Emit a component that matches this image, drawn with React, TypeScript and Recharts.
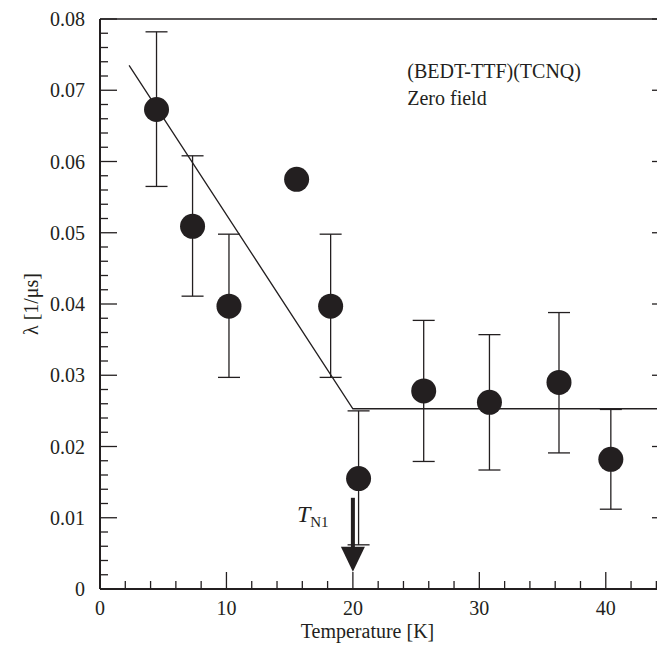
import React from 'react';
import { ComposedChart, Scatter, ErrorBar, XAxis, YAxis, ReferenceDot } from 'recharts';

// measured points: temperature [K], relaxation rate λ [1/μs]
const temps = [4.47, 7.32, 10.2, 15.55, 18.24, 20.45, 25.6, 30.8, 36.3, 40.4];
const lambdas = [0.0673, 0.0509, 0.0397, 0.0575, 0.0397, 0.0155, 0.0278, 0.0262, 0.029, 0.0182];
const errHigh = [0.0782, 0.0608, 0.0498, 0.0575, 0.0498, 0.025, 0.0377, 0.0357, 0.0388, 0.0252];
const errLow = [0.0565, 0.0411, 0.0297, 0.0575, 0.0297, 0.0062, 0.0179, 0.0167, 0.0191, 0.0112];

// guide line drawn through the data
const fitX = [2.3, 20, 45];
const fitY = [0.0735, 0.0253, 0.0253];

// ticks every 2 K / 0.002, the labelled ones are the majors
const xTicks = Array.from({ length: 23 }, (_, i) => i * 2);
const yTicks = Array.from({ length: 41 }, (_, i) => i * 0.002);
const isMajorX = (v: number) => Math.round(v) % 10 === 0;
const isMajorY = (v: number) => Math.round(v * 1000) % 10 === 0;

const TN1 = 20;
const TN1_ARROW_TOP = 0.0128;

const INK = '#231f20';
const SERIF = 'Liberation Serif, Times New Roman, Times, serif';

const points = temps.map((t, i) => ({
  x: t,
  y: lambdas[i],
  err: [lambdas[i] - errLow[i], errHigh[i] - lambdas[i]],
}));
const fit = fitX.map((x, i) => ({ x, y: fitY[i] }));

const fmtY = (v: number) => (v === 0 ? '0' : v.toFixed(2));

// axis ticks point into the plot, like the original figure
function makeTick(side: 'bottom' | 'top' | 'left' | 'right') {
  return (props: any) => {
    const { x, y, payload } = props;
    const v = payload.value;
    const horiz = side === 'bottom' || side === 'top';
    const major = horiz ? isMajorX(v) : isMajorY(v);
    const len = major ? 17 : 8;
    let x2 = x;
    let y2 = y;
    if (side === 'bottom') y2 = y - len;
    if (side === 'top') y2 = y + len;
    if (side === 'left') x2 = x + len;
    if (side === 'right') x2 = x - len;
    return (
      <g>
        <line x1={x} y1={y} x2={x2} y2={y2} stroke={INK} strokeWidth={1.3} />
        {major && side === 'bottom' && (
          <text x={x} y={y + 26} textAnchor="middle" fill={INK} fontFamily={SERIF} fontSize={20}>
            {String(v)}
          </text>
        )}
        {major && side === 'left' && (
          <text x={x - 15} y={y + 7} textAnchor="end" fill={INK} fontFamily={SERIF} fontSize={20}>
            {fmtY(v)}
          </text>
        )}
      </g>
    );
  };
}

function Dot(props: any) {
  return <circle cx={props.cx} cy={props.cy} r={12.5} fill={INK} />;
}

function Arrow(props: any) {
  const { cx, cy } = props;
  return (
    <g>
      <rect x={cx - 2} y={cy} width={4} height={50} fill={INK} />
      <polygon points={`${cx - 12},${cy + 49} ${cx + 12},${cy + 49} ${cx},${cy + 74}`} fill={INK} />
      <text x={cx - 56} y={cy + 24} fill={INK} fontFamily={SERIF} fontSize={24} fontStyle="italic">
        T
        <tspan fontStyle="normal" fontSize={15} dy={5}>
          N1
        </tspan>
      </text>
    </g>
  );
}

function Title(props: any) {
  const { cx, cy } = props;
  return (
    <text x={cx} y={cy} fill={INK} fontFamily={SERIF} fontSize={20}>
      <tspan x={cx}>(BEDT-TTF)(TCNQ)</tspan>
      <tspan x={cx} dy={27}>
        Zero field
      </tspan>
    </text>
  );
}

export default function App() {
  return (
    <div style={{ width: 657, height: 637, overflow: 'hidden' }}>
      <ComposedChart width={680} height={637} margin={{ top: 10, right: 18, bottom: 55, left: 91 }}>
        <XAxis
          xAxisId="x"
          type="number"
          dataKey="x"
          domain={[0, 45]}
          ticks={xTicks}
          interval={0}
          height={1}
          tickSize={0}
          tickMargin={0}
          tick={makeTick('bottom')}
          tickLine={false}
          axisLine={{ stroke: INK, strokeWidth: 2 }}
          allowDataOverflow
          label={{
            content: ({ viewBox }: any) => (
              <text
                x={viewBox.x + viewBox.width / 2 - 17}
                y={viewBox.y + 49}
                textAnchor="middle"
                fill={INK}
                fontFamily={SERIF}
                fontSize={20}
              >
                Temperature [K]
              </text>
            ),
          }}
        />
        <XAxis
          xAxisId="top"
          orientation="top"
          type="number"
          domain={[0, 45]}
          ticks={xTicks}
          interval={0}
          height={1}
          tickSize={0}
          tickMargin={0}
          tick={makeTick('top')}
          tickLine={false}
          axisLine={{ stroke: INK, strokeWidth: 1.5 }}
          allowDataOverflow
        />
        <YAxis
          yAxisId="y"
          type="number"
          dataKey="y"
          domain={[0, 0.08]}
          ticks={yTicks}
          interval={0}
          width={1}
          tickSize={0}
          tickMargin={0}
          tick={makeTick('left')}
          tickLine={false}
          axisLine={{ stroke: INK, strokeWidth: 2 }}
          allowDataOverflow
          label={{
            content: ({ viewBox }: any) => {
              const x = viewBox.x - 68;
              const y = viewBox.y + viewBox.height / 2;
              return (
                <text
                  x={x}
                  y={y}
                  transform={`rotate(-90 ${x} ${y})`}
                  textAnchor="middle"
                  dominantBaseline="central"
                  fill={INK}
                  fontFamily={SERIF}
                  fontSize={20}
                >
                  λ [1/μs]
                </text>
              );
            },
          }}
        />
        <YAxis
          yAxisId="right"
          orientation="right"
          type="number"
          domain={[0, 0.08]}
          ticks={yTicks}
          interval={0}
          width={1}
          tickSize={0}
          tickMargin={0}
          tick={makeTick('right')}
          tickLine={false}
          axisLine={{ stroke: INK, strokeWidth: 1.5 }}
          allowDataOverflow
        />

        <Scatter
          xAxisId="x"
          yAxisId="y"
          data={fit}
          dataKey="y"
          line={{ stroke: INK, strokeWidth: 1.3 }}
          shape={() => <g />}
          isAnimationActive={false}
        />
        <Scatter xAxisId="x" yAxisId="y" data={points} dataKey="y" shape={Dot} isAnimationActive={false}>
          <ErrorBar dataKey="err" direction="y" width={11} stroke={INK} strokeWidth={1.3} isAnimationActive={false} />
        </Scatter>

        <ReferenceDot xAxisId="x" yAxisId="y" x={TN1} y={TN1_ARROW_TOP} shape={Arrow} />
        <ReferenceDot xAxisId="x" yAxisId="y" x={24.3} y={0.0717} shape={Title} />
      </ComposedChart>
    </div>
  );
}
